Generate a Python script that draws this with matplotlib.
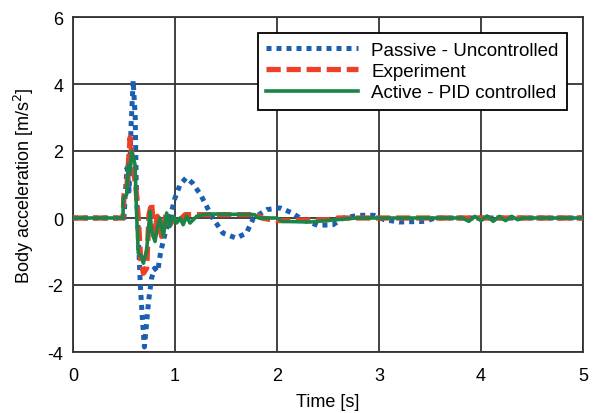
import matplotlib
matplotlib.use("Agg")
import matplotlib.pyplot as plt

plt.rcParams['font.family'] = ['Liberation Sans', 'DejaVu Sans']

# Passive - Uncontrolled
t_pas = [0, 0.50, 0.51, 0.53, 0.55, 0.57, 0.59, 0.61, 0.62, 0.64, 0.66, 0.68, 0.70, 0.72, 0.74,
         0.77, 0.80, 0.83, 0.86, 0.90, 0.95, 1.00, 1.05, 1.11, 1.17, 1.25, 1.37, 1.47, 1.60, 1.70,
         1.77, 1.90, 2.03, 2.15, 2.25, 2.40, 2.55, 2.65, 2.80, 2.95, 3.05, 3.20, 3.45, 3.55, 5.0]
a_pas = [0, 0, 0.6, 1.5, 0.8, 2.8, 4.1, 3.0, 1.0, -0.5, -2.0, -3.0, -3.85, -3.2, -2.5,
         -1.8, -1.5, -1.6, -1.0, -0.5, 0.0, 0.6, 1.0, 1.2, 1.05, 0.7, 0.0, -0.45, -0.6, -0.45,
         0.0, 0.25, 0.3, 0.15, -0.05, -0.22, -0.2, 0.0, 0.08, 0.08, -0.05, -0.12, -0.1, 0.0, 0.0]

# Experiment
t_exp = [0, 0.49, 0.50, 0.53, 0.56, 0.59, 0.617, 0.64, 0.663, 0.69, 0.722, 0.745, 0.771, 0.794,
         0.827, 0.869, 0.912, 0.951, 1.0, 1.05, 1.1, 1.8, 1.85, 2.0, 2.5, 2.6, 5.0]
a_exp = [0, 0, 0.7, 1.0, 2.4, 1.5, 0.9, 0.0, -1.2, -1.65, -1.5, 0.1, 0.45, -0.55,
         0.05, -0.55, 0.1, -0.2, 0.05, -0.05, 0.1, 0.1, 0.0, -0.08, -0.05, 0.0, 0.0]

# Active - PID controlled
t_act = [0, 0.49, 0.493, 0.526, 0.542, 0.559, 0.575, 0.608, 0.624, 0.64, 0.673, 0.69, 0.722,
         0.755, 0.771, 0.804, 0.827, 0.853, 0.886, 0.918, 0.951, 0.984, 1.016, 1.049, 1.08,
         1.114, 1.147, 1.212, 1.278, 1.343, 1.78, 1.82, 2.0, 2.05, 2.32, 2.78, 3.82, 3.88, 3.94,
         4.0, 4.06, 4.12, 4.18, 4.24, 4.30, 4.36, 4.41, 5.0]
a_act = [0, 0, 0.6, 0.7, 1.6, 1.4, 2.0, 1.6, 0.1, -1.05, -1.15, -1.35, -0.95,
         0.2, -0.4, -0.7, -0.3, 0.0, -0.55, 0.15, -0.25, 0.05, -0.15, 0.0, -0.2,
         0.05, -0.15, 0.05, 0.1, 0.12, 0.1, 0.0, 0.0, -0.1, -0.12, 0.0, 0.0, -0.1, 0.05,
         -0.08, 0.06, -0.1, 0.05, -0.08, 0.05, -0.05, 0.0, 0.0]

x_ticks = [0, 1, 2, 3, 4, 5]
y_ticks = [-4, -2, 0, 2, 4, 6]

fig = plt.figure(figsize=(5.95, 4.14), dpi=100)
ax = fig.add_axes([73/595, 61/414, 510/595, 335/414])

ax.plot(t_pas, a_pas, color='#1b5fb0', lw=3.6, linestyle=(0, (1, 1)), dash_capstyle='butt',
        label='Passive - Uncontrolled', zorder=3)
ax.plot(t_exp, a_exp, color='#ec4126', lw=3.8, linestyle=(0, (2.7, 1.1)), dash_capstyle='butt',
        label='Experiment', zorder=4)
ax.plot(t_act, a_act, color='#1a8547', lw=2.6, linestyle='-', label='Active - PID controlled',
        zorder=5)

ax.set_xlim(0, 5)
ax.set_ylim(-4, 6)
ax.set_xticks(x_ticks)
ax.set_yticks(y_ticks)
ax.set_xticklabels([str(v) for v in x_ticks])
ax.set_yticklabels([str(v) for v in y_ticks])
ax.grid(True, color='#333333', lw=1.3)
ax.set_axisbelow(True)
for s in ax.spines.values():
    s.set_color('#333333')
    s.set_linewidth(1.3)
ax.tick_params(axis='x', length=0, labelsize=13, pad=11, colors='black')
ax.tick_params(axis='y', length=0, labelsize=13, pad=7, colors='black')
ax.set_xlabel('Time [s]', fontsize=13, labelpad=6)
ax.set_ylabel('Body acceleration [m/s$^2$]', fontsize=13, labelpad=8)

leg = ax.legend(loc='upper right', bbox_to_anchor=(0.969, 0.952), fontsize=13.5,
                frameon=True, fancybox=False, framealpha=1, edgecolor='black',
                handlelength=4.9, borderpad=0.45, labelspacing=0.22, handletextpad=0.7,
                borderaxespad=0)
leg.get_frame().set_linewidth(1.3)

fig.savefig('out.png', dpi=100)
